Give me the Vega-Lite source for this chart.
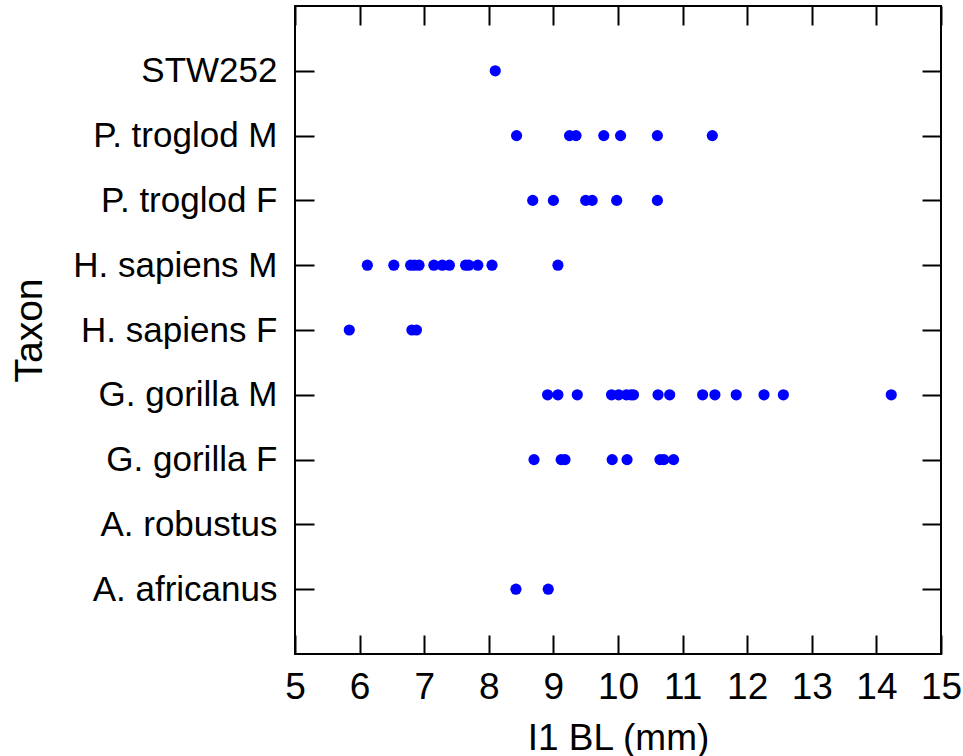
{
  "$schema": "https://vega.github.io/schema/vega-lite/v6.json",
  "width": 646,
  "height": 648,
  "autosize": "none",
  "padding": {"left": 295, "top": 6, "right": 22, "bottom": 102},
  "background": "white",
  "config": {
    "view": {"stroke": "black", "strokeWidth": 2},
    "axis": {"grid": false, "domain": false, "tickColor": "black", "tickWidth": 2, "labelColor": "black", "titleColor": "black", "titleFontWeight": "normal"}
  },
  "data": {
    "values": [
      {"taxon": "STW252", "bl": 8.10},
      {"taxon": "P. troglod M", "bl": 8.43},
      {"taxon": "P. troglod M", "bl": 9.25},
      {"taxon": "P. troglod M", "bl": 9.35},
      {"taxon": "P. troglod M", "bl": 9.78},
      {"taxon": "P. troglod M", "bl": 10.04},
      {"taxon": "P. troglod M", "bl": 10.61},
      {"taxon": "P. troglod M", "bl": 11.46},
      {"taxon": "P. troglod F", "bl": 8.68},
      {"taxon": "P. troglod F", "bl": 9.00},
      {"taxon": "P. troglod F", "bl": 9.50},
      {"taxon": "P. troglod F", "bl": 9.60},
      {"taxon": "P. troglod F", "bl": 9.98},
      {"taxon": "P. troglod F", "bl": 10.61},
      {"taxon": "H. sapiens M", "bl": 6.12},
      {"taxon": "H. sapiens M", "bl": 6.53},
      {"taxon": "H. sapiens M", "bl": 6.79},
      {"taxon": "H. sapiens M", "bl": 6.85},
      {"taxon": "H. sapiens M", "bl": 6.92},
      {"taxon": "H. sapiens M", "bl": 7.15},
      {"taxon": "H. sapiens M", "bl": 7.28},
      {"taxon": "H. sapiens M", "bl": 7.39},
      {"taxon": "H. sapiens M", "bl": 7.64},
      {"taxon": "H. sapiens M", "bl": 7.69},
      {"taxon": "H. sapiens M", "bl": 7.83},
      {"taxon": "H. sapiens M", "bl": 8.05},
      {"taxon": "H. sapiens M", "bl": 9.07},
      {"taxon": "H. sapiens F", "bl": 5.84},
      {"taxon": "H. sapiens F", "bl": 6.81},
      {"taxon": "H. sapiens F", "bl": 6.88},
      {"taxon": "G. gorilla M", "bl": 8.91},
      {"taxon": "G. gorilla M", "bl": 9.07},
      {"taxon": "G. gorilla M", "bl": 9.37},
      {"taxon": "G. gorilla M", "bl": 9.90},
      {"taxon": "G. gorilla M", "bl": 10.01},
      {"taxon": "G. gorilla M", "bl": 10.13},
      {"taxon": "G. gorilla M", "bl": 10.20},
      {"taxon": "G. gorilla M", "bl": 10.24},
      {"taxon": "G. gorilla M", "bl": 10.62},
      {"taxon": "G. gorilla M", "bl": 10.80},
      {"taxon": "G. gorilla M", "bl": 11.31},
      {"taxon": "G. gorilla M", "bl": 11.50},
      {"taxon": "G. gorilla M", "bl": 11.83},
      {"taxon": "G. gorilla M", "bl": 12.26},
      {"taxon": "G. gorilla M", "bl": 12.56},
      {"taxon": "G. gorilla M", "bl": 14.23},
      {"taxon": "G. gorilla F", "bl": 8.70},
      {"taxon": "G. gorilla F", "bl": 9.12},
      {"taxon": "G. gorilla F", "bl": 9.18},
      {"taxon": "G. gorilla F", "bl": 9.91},
      {"taxon": "G. gorilla F", "bl": 10.14},
      {"taxon": "G. gorilla F", "bl": 10.65},
      {"taxon": "G. gorilla F", "bl": 10.71},
      {"taxon": "G. gorilla F", "bl": 10.86},
      {"taxon": "A. africanus", "bl": 8.42},
      {"taxon": "A. africanus", "bl": 8.92}
    ]
  },
  "layer": [
    {
      "mark": {"type": "point", "filled": true, "size": 125, "color": "#0000ff", "opacity": 1},
      "encoding": {
        "x": {
          "field": "bl", "type": "quantitative",
          "scale": {"domain": [5, 15], "nice": false, "zero": false},
          "axis": {
            "orient": "bottom", "title": "I1 BL (mm)",
            "values": [5, 6, 7, 8, 9, 10, 11, 12, 13, 14, 15],
            "tickSize": -19, "labelPadding": 34,
            "labelFont": "Liberation Sans", "labelFontSize": 37,
            "labelFlush": false, "labelOverlap": false,
            "titleFont": "Liberation Sans", "titleFontSize": 37,
            "titleBaseline": "alphabetic", "titleY": 95
          }
        },
        "y": {
          "field": "taxon", "type": "nominal",
          "scale": {"type": "point", "padding": 1, "domain": ["STW252", "P. troglod M", "P. troglod F", "H. sapiens M", "H. sapiens F", "G. gorilla M", "G. gorilla F", "A. robustus", "A. africanus"]},
          "axis": {
            "orient": "left", "title": "Taxon",
            "tickSize": -19, "labelPadding": 37,
            "labelFont": "Liberation Sans", "labelFontSize": 35, "labelLimit": 400,
            "titleFont": "Liberation Sans", "titleFontSize": 39,
            "titleBaseline": "middle", "titleX": -266, "titleY": 324, "titleAngle": -90
          }
        }
      }
    },
    {
      "mark": {"type": "point", "opacity": 0},
      "encoding": {
        "x": {
          "field": "bl", "type": "quantitative",
          "axis": {"orient": "top", "title": null, "labels": false, "values": [5, 6, 7, 8, 9, 10, 11, 12, 13, 14, 15], "tickSize": -19}
        },
        "y": {
          "field": "taxon", "type": "nominal",
          "axis": {"orient": "right", "title": null, "labels": false, "tickSize": -19}
        }
      }
    }
  ],
  "resolve": {"axis": {"x": "independent", "y": "independent"}}
}
